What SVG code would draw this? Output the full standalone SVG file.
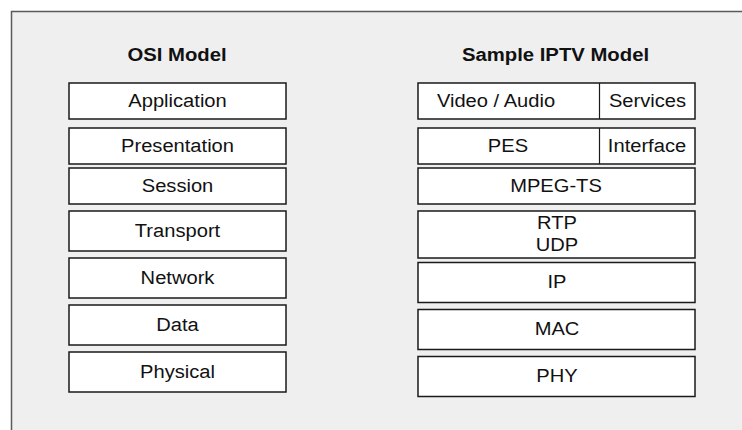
<svg xmlns="http://www.w3.org/2000/svg" width="742" height="430" viewBox="0 0 742 430">
<style>
.frame{fill:#efefef;stroke:#5a5a5a;stroke-width:1.5}
.box{fill:#ffffff;stroke:#1a1a1a;stroke-width:1.5}
.div{stroke:#1a1a1a;stroke-width:1.2}
.t{font-family:"Liberation Sans",Arial,sans-serif;font-size:19px;fill:#111;text-anchor:middle}
.h{font-family:"Liberation Sans",Arial,sans-serif;font-size:17.5px;font-weight:bold;fill:#111;text-anchor:middle}
</style>
<rect width="742" height="430" fill="#ffffff"/>
<rect class="frame" x="11.5" y="11.5" width="760" height="450"/>
<g id="title-osi"><text class="h" transform="translate(177 61) scale(1.16 1)">OSI Model</text></g>
<g id="title-iptv"><text class="h" transform="translate(555.5 61) scale(1.16 1)">Sample IPTV Model</text></g>
<g id="osi-application"><rect class="box" x="69" y="83" width="217" height="36"/><text class="t" transform="translate(177.5 107) scale(1.06 1)">Application</text></g>
<g id="osi-presentation"><rect class="box" x="69" y="128" width="217" height="36"/><text class="t" transform="translate(177.5 151.5) scale(1.06 1)">Presentation</text></g>
<g id="osi-session"><rect class="box" x="69" y="168" width="217" height="36"/><text class="t" transform="translate(177.5 192) scale(1.06 1)">Session</text></g>
<g id="osi-transport"><rect class="box" x="69" y="211" width="217" height="40"/><text class="t" transform="translate(177.5 237) scale(1.06 1)">Transport</text></g>
<g id="osi-network"><rect class="box" x="69" y="258" width="217" height="40"/><text class="t" transform="translate(177.5 283.5) scale(1.06 1)">Network</text></g>
<g id="osi-data"><rect class="box" x="69" y="305" width="217" height="40"/><text class="t" transform="translate(177.5 330.5) scale(1.06 1)">Data</text></g>
<g id="osi-physical"><rect class="box" x="69" y="352" width="217" height="40"/><text class="t" transform="translate(177.5 377.5) scale(1.06 1)">Physical</text></g>
<g id="iptv-row1"><rect class="box" x="418" y="83" width="277" height="36"/><line class="div" x1="599.5" y1="83" x2="599.5" y2="119"/><text class="t" transform="translate(496 107) scale(1.06 1)">Video / Audio</text><text class="t" transform="translate(647.5 107) scale(1.06 1)">Services</text></g>
<g id="iptv-row2"><rect class="box" x="418" y="128" width="277" height="36"/><line class="div" x1="599.5" y1="128" x2="599.5" y2="164"/><text class="t" transform="translate(508 151.5) scale(1.06 1)">PES</text><text class="t" transform="translate(647 151.5) scale(1.06 1)">Interface</text></g>
<g id="iptv-mpegts"><rect class="box" x="418" y="168" width="277" height="36"/><text class="t" transform="translate(556 192) scale(1.06 1)">MPEG-TS</text></g>
<g id="iptv-rtpudp"><rect class="box" x="418" y="211" width="277" height="47"/><text class="t" transform="translate(557 228.5) scale(1.06 1)">RTP</text><text class="t" transform="translate(557 251) scale(1.06 1)">UDP</text></g>
<g id="iptv-ip"><rect class="box" x="418" y="262.5" width="277" height="40"/><text class="t" transform="translate(557 288) scale(1.06 1)">IP</text></g>
<g id="iptv-mac"><rect class="box" x="418" y="309.5" width="277" height="40"/><text class="t" transform="translate(557 334.5) scale(1.06 1)">MAC</text></g>
<g id="iptv-phy"><rect class="box" x="418" y="356.5" width="277" height="40"/><text class="t" transform="translate(557 381.5) scale(1.06 1)">PHY</text></g>
<g id="connectors"></g>
</svg>
